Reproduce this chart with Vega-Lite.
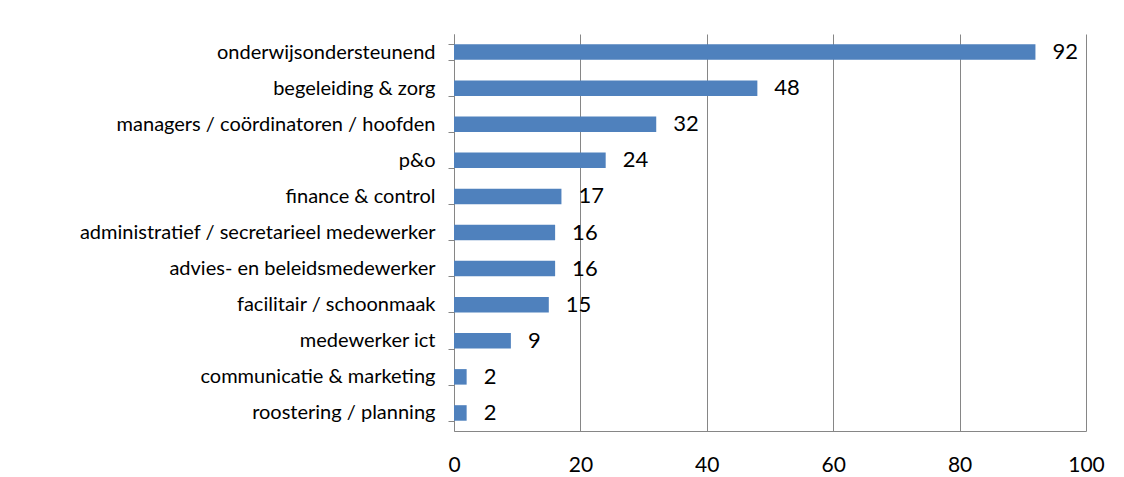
{
  "$schema": "https://vega.github.io/schema/vega-lite/v6.json",
  "autosize": {"type": "none"},
  "padding": {"left": 454, "top": 34, "right": 38, "bottom": 46},
  "width": 632,
  "height": 397,
  "background": "white",
  "config": {
    "view": {"stroke": null},
    "font": "Lato"
  },
  "data": {
    "values": [
      {"functie": "onderwijsondersteunend", "aantal": 92},
      {"functie": "begeleiding & zorg", "aantal": 48},
      {"functie": "managers / coördinatoren / hoofden", "aantal": 32},
      {"functie": "p&o", "aantal": 24},
      {"functie": "finance & control", "aantal": 17},
      {"functie": "administratief / secretarieel medewerker", "aantal": 16},
      {"functie": "advies- en beleidsmedewerker", "aantal": 16},
      {"functie": "facilitair / schoonmaak", "aantal": 15},
      {"functie": "medewerker ict", "aantal": 9},
      {"functie": "communicatie & marketing", "aantal": 2},
      {"functie": "roostering / planning", "aantal": 2}
    ]
  },
  "encoding": {
    "y": {
      "field": "functie",
      "type": "nominal",
      "sort": null,
      "scale": {"paddingInner": 0.57, "paddingOuter": 0.285},
      "axis": {
        "title": null,
        "tickBand": "extent",
        "tickSize": 6,
        "tickColor": "#868686",
        "domainColor": "#868686",
        "labelPadding": 13,
        "labelFontSize": 20,
        "labelLimit": 0,
        "labelColor": "#000000",
        "labelFont": "Lato",
        "grid": false
      }
    },
    "x": {
      "field": "aantal",
      "type": "quantitative",
      "scale": {"domain": [0, 100], "nice": false},
      "axis": {
        "title": null,
        "values": [0, 20, 40, 60, 80, 100],
        "ticks": false,
        "grid": true,
        "gridColor": "#868686",
        "gridOpacity": 1,
        "domainColor": "#868686",
        "labelPadding": 40,
        "labelBaseline": "alphabetic",
        "labelFontSize": 21,
        "labelColor": "#000000",
        "labelFont": "Lato",
        "labelFlush": false
      }
    }
  },
  "layer": [
    {"mark": {"type": "bar", "color": "#4F81BD"}},
    {
      "mark": {"type": "text", "align": "left", "baseline": "middle", "dx": 17, "fontSize": 22, "color": "#000000", "font": "Lato"},
      "encoding": {"text": {"field": "aantal", "type": "quantitative"}}
    }
  ]
}
